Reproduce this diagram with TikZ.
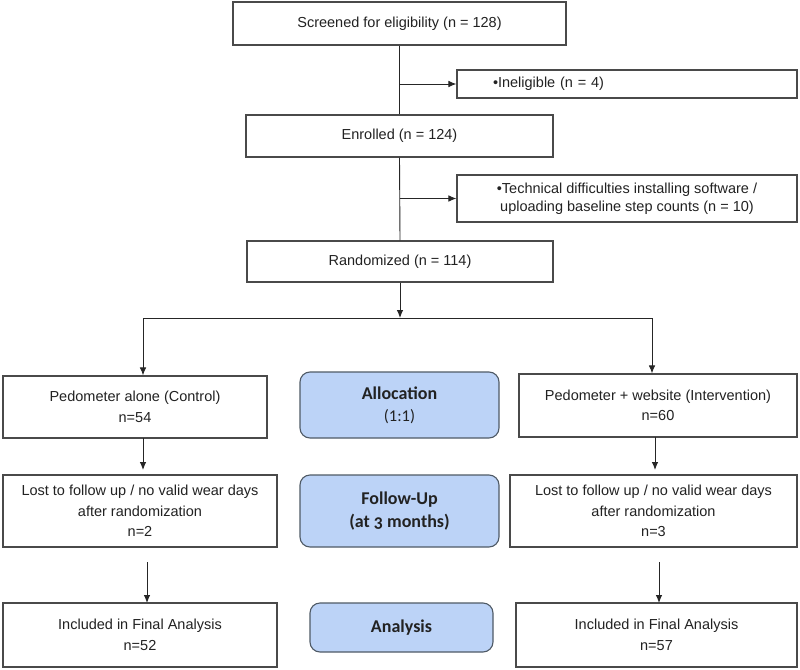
\documentclass[tikz,border=0pt]{standalone}
\usepackage{fontspec}
\setmainfont{Liberation Sans}
\newfontfamily\calib{Carlito}
\newfontfamily\calibold[Numbers=OldStyle]{Carlito}
\usetikzlibrary{arrows.meta}
\definecolor{boxline}{HTML}{4A4A4A}
\definecolor{bluefill}{RGB}{188,211,247}
\definecolor{blueline}{HTML}{4F5A66}
\definecolor{txt}{HTML}{222222}
\tikzset{
  x=1pt, y=-1pt,
  box/.style={draw=boxline, line width=1.1pt, fill=white, inner sep=0pt, align=center,
    font=\fontsize{14.5}{20.5}\selectfont, text=txt},
  phase/.style={draw=blueline, line width=1.1pt, fill=bluefill, rounded corners=10pt,
    inner sep=0pt, align=center, text=txt, font=\calib\fontsize{18}{22}\selectfont},
  conn/.style={draw=black!85, line width=0.9pt},
  arr/.style={conn, -{Latex[length=8pt,width=6.5pt]}},
}
\begin{document}
\begin{tikzpicture}
\useasboundingbox (0,0) rectangle (800,669);
\node[box, minimum width=333pt, minimum height=43pt] (screen) at (399.5,23.5) {Screened for eligibility (n = 128)};
\node[box, minimum width=340pt, minimum height=28pt, text width=268pt, align=left] (inel) at (627,84) {\textbullet Ineligible (n = 4)};
\node[box, minimum width=307pt, minimum height=42pt] (enrol) at (399.5,136) {Enrolled (n = 124)};
\node[box, minimum width=340pt, minimum height=47pt, font=\fontsize{14.5}{18}\selectfont] (tech) at (627,198.5) {\textbullet Technical difficulties installing software /\\uploading baseline step counts (n = 10)};
\node[box, minimum width=306pt, minimum height=41pt] (rand) at (400,261.5) {Randomized (n = 114)};

\coordinate (br) at (400,318);
\coordinate (brl) at (143,318);
\coordinate (brr) at (652,318);

\node[box, minimum width=264pt, minimum height=62pt] (ctrl) at (135,407) {Pedometer alone (Control)\\n=54};
\node[phase, minimum width=199pt, minimum height=66pt] (alloc) at (399.5,405) {\textbf{Allocation}\\{\fontsize{16.5}{20}\selectfont (1:1)}};
\node[box, minimum width=278pt, minimum height=63pt] (intv) at (658,405.5) {Pedometer + website (Intervention)\\n=60};

\node[box, minimum width=274pt, minimum height=72pt] (lost1) at (140,511) {Lost to follow up / no valid wear days\\after randomization\\n=2};
\node[phase, minimum width=199pt, minimum height=72pt, font=\calibold\fontsize{18}{23}\selectfont] (fu) at (399.5,511) {\textbf{Follow-Up}\\\textbf{(at 3 months)}};
\node[box, minimum width=287pt, minimum height=72pt] (lost2) at (653.5,511) {Lost to follow up / no valid wear days\\after randomization\\n=3};

\node[box, minimum width=274pt, minimum height=64pt] (fin1) at (140,635) {Included in Final Analysis\\n=52};
\node[phase, minimum width=183pt, minimum height=49pt] (an) at (401.5,627.5) {\textbf{Analysis}};
\node[box, minimum width=281pt, minimum height=64pt] (fin2) at (656.5,635) {Included in Final Analysis\\n=57};

% main trunk
\draw[conn] (screen.south) -- (enrol.north);
\draw[conn] (enrol.south) -- (rand.north);
\draw[arr] (screen.south |- inel.west) -- (inel.west);
\draw[arr] (enrol.south |- tech.west) -- (tech.west);
\draw[arr] (rand.south) -- (br);
\draw[conn] (brl) -- (brr);
\draw[arr] (brl) -- (brl |- ctrl.north);
\draw[arr] (brr) -- (brr |- intv.north);
\draw[arr, shorten >=5pt] (143,438) -- (143,475);
\draw[arr, shorten >=5pt] (655,437) -- (655,475);
\draw[arr] (147,562) -- (147,603);
\draw[arr] (659,562) -- (659,603);
\end{tikzpicture}
\end{document}
